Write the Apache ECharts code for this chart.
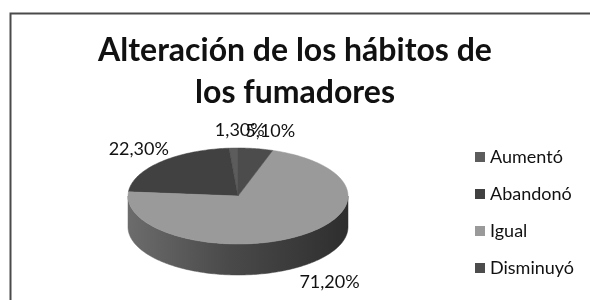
<!DOCTYPE html>
<html>
<head>
<meta charset="utf-8">
<script src="https://cdn.jsdelivr.net/npm/echarts@6/dist/echarts.min.js"></script>
<style>
  html, body { margin: 0; padding: 0; background: #fff; }
  #chart { width: 590px; height: 300px; }
</style>
</head>
<body>
<div id="chart"></div>
<script>
// datos del gráfico
const categories = ['Aumentó', 'Abandonó', 'Igual', 'Disminuyó']
const values = [1.3, 22.3, 71.2, 5.1]
const titleText = 'Alteración de los hábitos de\nlos fumadores'

// tonos de gris de cada porción
const colors = ['#5c5c5c', '#414141', '#9a9a9a', '#4c4c4c']

// geometría de la tarta 3D
const cx = 238, cy = 196, rx = 110, ry = 48, depth = 31
const lcx = cx + 8, lrx = 152, lry = 66   // elipse de etiquetas

const total = values.reduce((s, v) => s + v, 0)
const fmt = v => v.toFixed(2).replace('.', ',') + '%'

const pt = (a, dy) => [cx + rx * Math.cos(a), cy - ry * Math.sin(a) + (dy || 0)]

function arc (a0, a1, dy) {
  const n = Math.max(2, Math.ceil((a1 - a0) / 0.02))
  const out = []
  for (let k = 0; k <= n; k++) out.push(pt(a0 + (a1 - a0) * k / n, dy))
  return out
}

const sideFill = {
  type: 'linear', global: true,
  x: cx - rx, y: 0, x2: cx + rx, y2: 0,
  colorStops: [
    { offset: 0, color: '#6c6c6c' },
    { offset: 0.45, color: '#4a4a4a' },
    { offset: 1, color: '#2e2e2e' }
  ]
}

function renderSlice (i) {
  return function (params, api) {
    const before = values.slice(0, i).reduce((s, v) => s + v, 0)
    // sentido antihorario desde las 12
    const a0 = Math.PI / 2 + before / total * Math.PI * 2
    const a1 = Math.PI / 2 + (before + api.value(0)) / total * Math.PI * 2
    const children = []

    // lateral (sólo la mitad frontal)
    ;[[Math.PI, 2 * Math.PI], [3 * Math.PI, 4 * Math.PI]].forEach(([f0, f1]) => {
      const s0 = Math.max(a0, f0), s1 = Math.min(a1, f1)
      if (s1 <= s0) return
      const pts = arc(s0, s1, 0).concat(arc(s0, s1, depth).reverse())
      children.push({
        type: 'polygon', z2: 1,
        shape: { points: pts },
        style: { fill: sideFill, stroke: sideFill, lineWidth: 0.5 }
      })
    })

    // cara superior
    children.push({
      type: 'polygon', z2: 2,
      shape: { points: [[cx, cy]].concat(arc(a0, a1, 0)) },
      style: { fill: colors[i], stroke: colors[i], lineWidth: 0.5 }
    })

    // etiqueta
    const am = (a0 + a1) / 2
    const s = Math.sin(am)
    children.push({
      type: 'text', z2: 3,
      x: lcx + lrx * Math.cos(am),
      y: cy - lry * s + (s < 0 ? depth : 0),
      style: {
        text: fmt(api.value(0)),
        fill: '#111',
        font: '18px Lato',
        align: 'center',
        verticalAlign: 'middle'
      }
    })
    return { type: 'group', children }
  }
}

const chart = echarts.init(document.getElementById('chart'))

chart.setOption({
  animation: false,
  title: {
    text: titleText,
    left: 'center',
    top: 25,
    textStyle: {
      fontFamily: 'Lato',
      fontSize: 32,
      fontWeight: 'bold',
      lineHeight: 42,
      color: '#111'
    }
  },
  legend: {
    orient: 'vertical',
    left: 470,
    top: 143,
    icon: 'rect',
    itemWidth: 10,
    itemHeight: 10,
    itemGap: 19,
    data: categories,
    textStyle: { fontFamily: 'Lato', fontSize: 18, color: '#111' }
  },
  graphic: [{
    type: 'rect',
    shape: { x: 10.5, y: 13.5, width: 700, height: 400 },
    style: { fill: 'none', stroke: '#4a4a4a', lineWidth: 2 },
    silent: true
  }],
  series: categories.map((name, i) => ({
    name,
    type: 'custom',
    coordinateSystem: 'none',
    itemStyle: { color: colors[i] },
    data: [[values[i]]],
    renderItem: renderSlice(i)
  }))
})
</script>
</body>
</html>
